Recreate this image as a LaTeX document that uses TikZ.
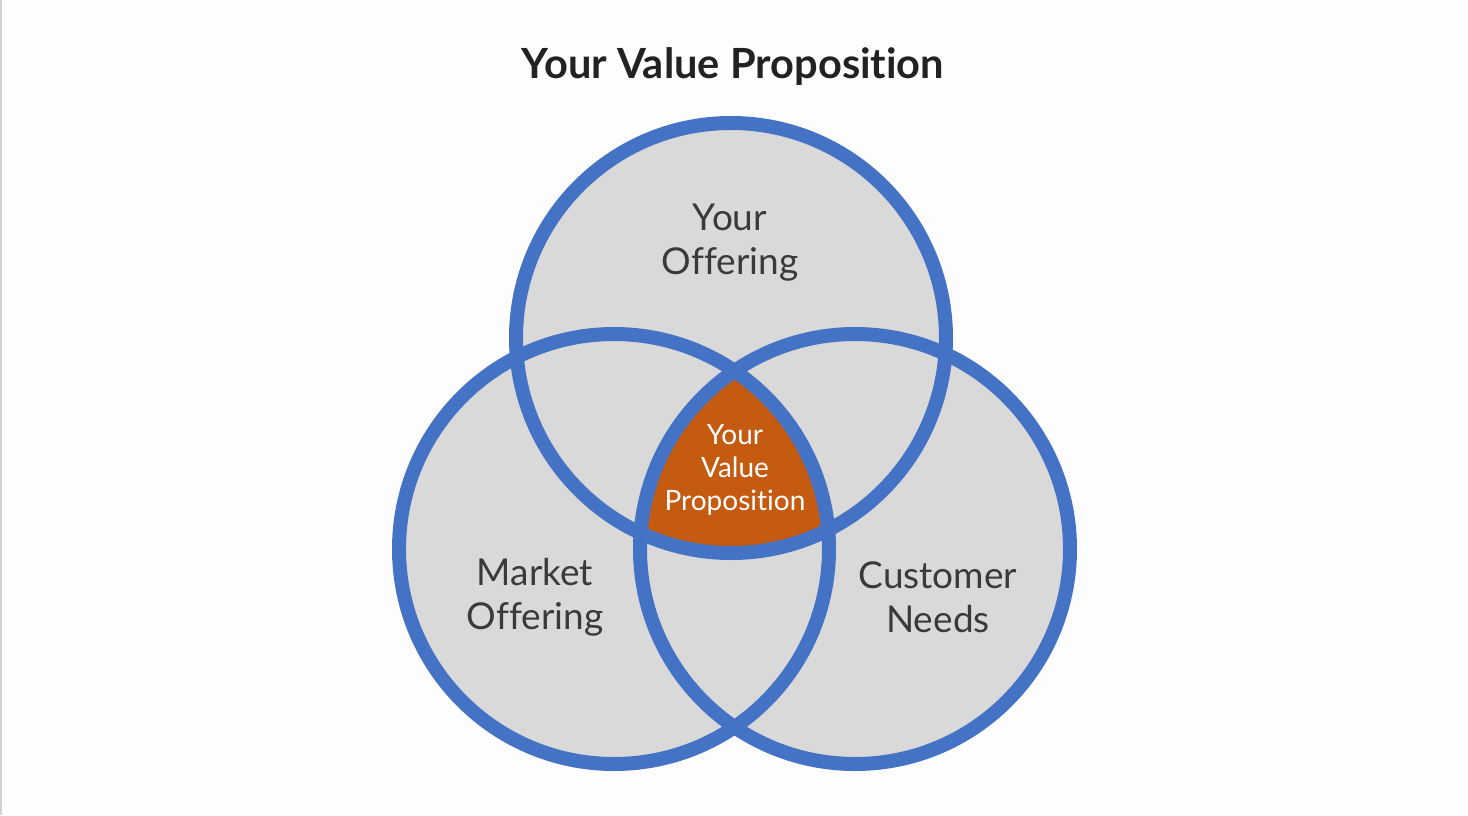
\documentclass[tikz,border=0pt]{standalone}
\usepackage{fontspec}
\setmainfont[Ligatures=NoCommon]{Lato}
\definecolor{ringblue}{HTML}{4472C4}
\definecolor{venngray}{HTML}{D9D9D9}
\definecolor{vporange}{HTML}{C55A11}
\definecolor{labelgray}{HTML}{3A3A3A}
\definecolor{titleblack}{HTML}{222222}
\definecolor{pagewhite}{HTML}{FDFDFD}
\begin{document}
\begin{tikzpicture}[x=0.5pt,y=-0.5pt,
    ring/.style={draw=ringblue,line width=7pt},
    setlabel/.style={align=center,text=labelgray,font=\fontsize{18.5}{22}\selectfont},
    coretext/.style={align=center,text=white,font=\fontsize{14}{16.5}\selectfont},
    heading/.style={text=titleblack,font=\fontsize{20.8}{24}\selectfont\bfseries}]
    % Page
    \fill[pagewhite] (0,0) rectangle (1468,815);
    \useasboundingbox (0,0) rectangle (1468,815);
    \draw[gray!35,line width=0.75pt] (0.75,0) -- (0.75,815);
    % Circle centres
    \coordinate (top) at (731,338);
    \coordinate (left) at (614,549);
    \coordinate (right) at (855,549);
    % Circle fills
    \foreach \c in {top,left,right}
        \fill[venngray] (\c) circle[radius=107.5pt];
    % Centre overlap
    \begin{scope}
        \clip (top) circle[radius=107.5pt];
        \clip (left) circle[radius=107.5pt];
        \fill[vporange] (right) circle[radius=107.5pt];
    \end{scope}
    % Circle rings
    \foreach \c in {top,left,right}
        \draw[ring] (\c) circle[radius=107.5pt];
    % Labels
    \node[heading] (title) at (733,67) {Your Value Proposition};
    \node[setlabel] (offer) at (730,243) {Your\\Offering};
    \node[setlabel] (market) at (535,597) {Market\\Offering};
    \node[setlabel] (needs) at (938,597) {Customer\\Needs};
    \node[coretext] (core) at (735,470) {Your\\Value\\Proposition};
\end{tikzpicture}
\end{document}
